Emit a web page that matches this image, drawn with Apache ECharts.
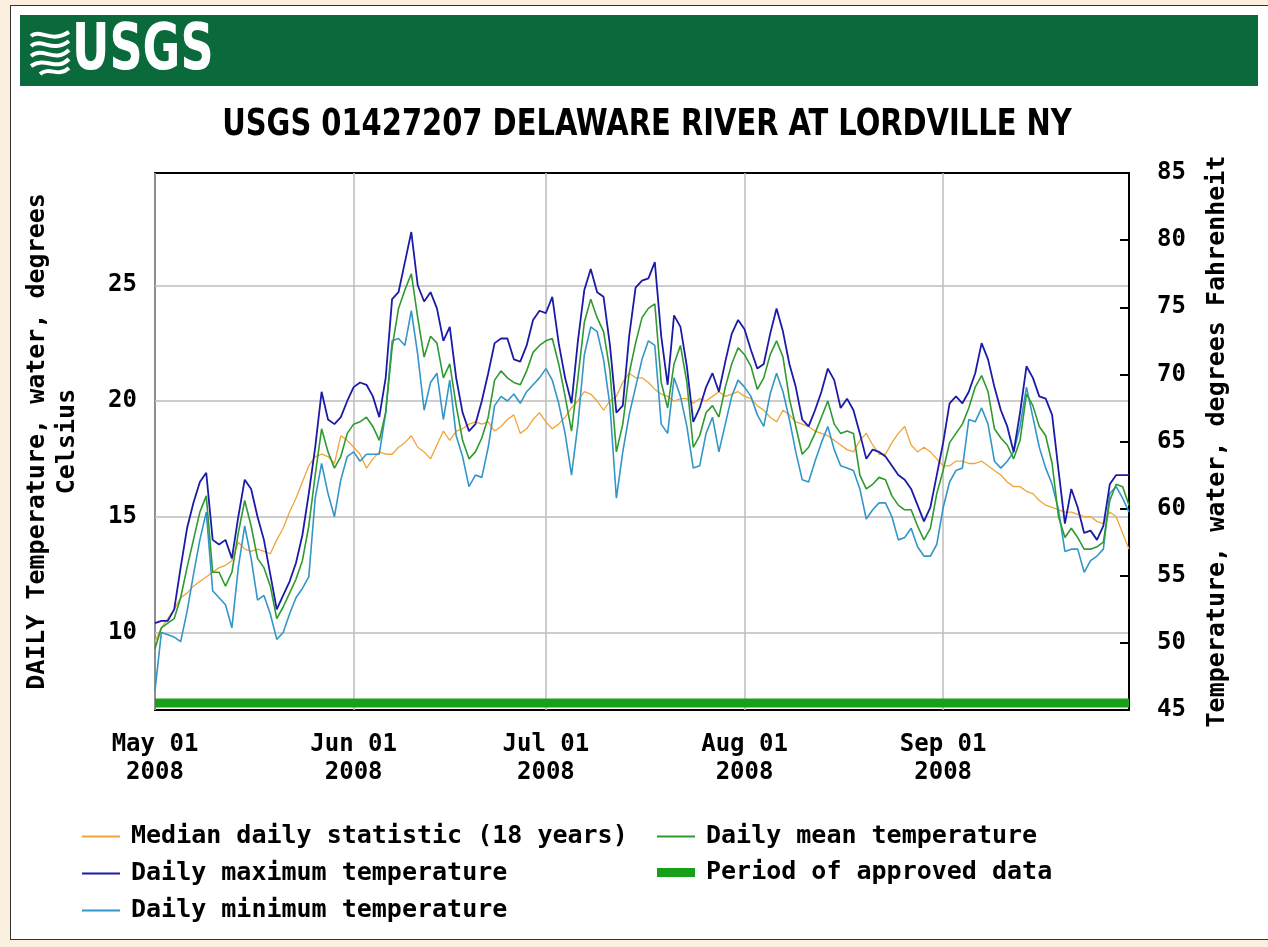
<!DOCTYPE html>
<html>
<head>
<meta charset="utf-8">
<script src="https://cdn.jsdelivr.net/npm/echarts@6/dist/echarts.min.js"></script>
<style>
  html, body { margin: 0; padding: 0; background: #FBF0DF; }
  #panel { position: absolute; left: 10px; top: 5px; width: 1262px; height: 933px; background: #fff; border: 1.5px solid #333; }
  #chart { position: absolute; left: 0; top: 0; width: 1268px; height: 947px; }
</style>
</head>
<body>
<div id="panel"></div>
<div id="chart"></div>
<script>
// ---------------- DATA ----------------
const startDate = '2008-05-01';
const dayCount = 153; // May 01 .. Sep 30, 2008
const monthNames = ['Jan','Feb','Mar','Apr','May','Jun','Jul','Aug','Sep','Oct','Nov','Dec'];

const dailyMax = [
  10.4, 10.5, 10.5, 11.0, 12.8, 14.5, 15.6, 16.5, 16.9, 14.0,
  13.8, 14.0, 13.2, 15.0, 16.6, 16.2, 15.0, 14.0, 12.5, 11.0,
  11.6, 12.2, 13.0, 14.2, 16.0, 18.0, 20.4, 19.2, 19.0, 19.3,
  20.0, 20.6, 20.8, 20.7, 20.2, 19.3, 21.0, 24.4, 24.7, 26.0,
  27.3, 25.0, 24.3, 24.7, 24.0, 22.6, 23.2, 21.0, 19.5, 18.7,
  19.0, 20.0, 21.2, 22.5, 22.7, 22.7, 21.8, 21.7, 22.4, 23.5,
  23.9, 23.8, 24.5, 22.5, 21.0, 19.9, 22.6, 24.8, 25.7, 24.7,
  24.5, 22.4, 19.5, 19.8, 22.8, 24.9, 25.2, 25.3, 26.0, 22.8,
  20.7, 23.7, 23.2, 21.5, 19.1, 19.7, 20.6, 21.2, 20.4, 21.7,
  22.9, 23.5, 23.1, 22.2, 21.4, 21.6, 22.9, 24.0, 23.0, 21.6,
  20.6, 19.2, 18.9, 19.6, 20.4, 21.4, 20.9, 19.7, 20.1, 19.6,
  18.6, 17.5, 17.9, 17.8, 17.6, 17.2, 16.8, 16.6, 16.2, 15.5,
  14.8, 15.4, 16.8, 18.2, 19.9, 20.2, 19.9, 20.4, 21.2, 22.5,
  21.8, 20.6, 19.6, 18.9, 17.8, 19.5, 21.5, 21.0, 20.2, 20.1,
  19.4, 17.0, 14.7, 16.2, 15.4, 14.3, 14.4, 14.0, 14.6, 16.4,
  16.8, 16.8, 16.8
];

const dailyMean = [
  9.3, 10.2, 10.4, 10.6, 11.5, 12.8, 14.0, 15.2, 15.9, 12.6,
  12.6, 12.0, 12.6, 14.3, 15.7, 14.6, 13.2, 12.8, 12.0, 10.6,
  11.1, 11.7, 12.3, 13.1, 14.6, 16.8, 18.8, 17.8, 17.1, 17.6,
  18.6, 19.0, 19.1, 19.3, 18.9, 18.3, 19.5, 22.3, 24.0, 24.8,
  25.5, 23.6, 21.9, 22.8, 22.5, 21.0, 21.6, 19.8, 18.3, 17.5,
  17.8, 18.4, 19.3, 20.9, 21.3, 21.0, 20.8, 20.7, 21.3, 22.1,
  22.4, 22.6, 22.7, 21.6, 20.2, 18.7, 21.0, 23.4, 24.4, 23.6,
  23.0, 21.3, 17.8, 19.0, 21.2, 22.5, 23.6, 24.0, 24.2, 20.8,
  19.7, 21.6, 22.4, 20.8, 18.0, 18.5, 19.5, 19.8, 19.3, 20.6,
  21.6, 22.3, 22.0, 21.5, 20.5, 21.0, 22.0, 22.6, 21.9, 20.1,
  18.9, 17.7, 18.0, 18.6, 19.3, 20.0, 19.0, 18.6, 18.7, 18.6,
  16.8, 16.2, 16.4, 16.7, 16.6, 15.9, 15.5, 15.3, 15.3, 14.6,
  14.0, 14.5, 16.0, 17.0, 18.2, 18.6, 19.0, 19.7, 20.6, 21.1,
  20.4, 18.8, 18.4, 18.1, 17.5, 18.3, 20.3, 19.8, 18.9, 18.5,
  17.3, 15.0, 14.1, 14.5, 14.1, 13.6, 13.6, 13.7, 13.9, 15.7,
  16.4, 16.3, 15.5
];

const dailyMin = [
  7.5, 10.0, 9.9, 9.8, 9.6, 10.9, 12.5, 14.0, 15.2, 11.8,
  11.5, 11.2, 10.2, 12.8, 14.6, 13.2, 11.4, 11.6, 10.8, 9.7,
  10.0, 10.8, 11.5, 11.9, 12.4, 15.8, 17.3, 16.0, 15.0, 16.6,
  17.6, 17.8, 17.4, 17.7, 17.7, 17.7, 19.5, 22.6, 22.7, 22.4,
  23.9, 22.0, 19.6, 20.8, 21.2, 19.2, 20.9, 18.5, 17.6, 16.3,
  16.8, 16.7, 18.0, 19.8, 20.2, 20.0, 20.3, 19.9, 20.4, 20.7,
  21.0, 21.4, 20.9, 19.9, 18.6, 16.8, 19.0, 22.0, 23.2, 23.0,
  21.8, 19.8, 15.8, 17.8, 19.4, 20.6, 21.8, 22.6, 22.4, 19.0,
  18.6, 21.0, 20.2, 18.9, 17.1, 17.2, 18.6, 19.3, 17.8, 19.0,
  20.2, 20.9, 20.6, 20.2, 19.4, 18.9, 20.3, 21.2, 20.4, 19.2,
  17.8, 16.6, 16.5, 17.4, 18.2, 18.9, 17.9, 17.2, 17.1, 17.0,
  16.2, 14.9, 15.3, 15.6, 15.6, 15.0, 14.0, 14.1, 14.5, 13.7,
  13.3, 13.3, 13.8, 15.4, 16.5, 17.0, 17.1, 19.2, 19.1, 19.7,
  19.0, 17.4, 17.1, 17.4, 17.8, 18.9, 20.6, 19.3, 18.0, 17.1,
  16.4, 15.3, 13.5, 13.6, 13.6, 12.6, 13.1, 13.3, 13.6, 16.0,
  16.3, 15.8, 15.2
];

const medianDaily = [
  9.6, 10.2, 10.6, 11.0, 11.5, 11.7, 12.0, 12.2, 12.4, 12.6,
  12.8, 12.9, 13.1, 13.9, 13.6, 13.5, 13.6, 13.5, 13.4, 14.0,
  14.5, 15.2, 15.8, 16.5, 17.2, 17.6, 17.7, 17.6, 17.3, 18.5,
  18.3, 18.0, 17.7, 17.1, 17.5, 17.8, 17.7, 17.7, 18.0, 18.2,
  18.5, 18.0, 17.8, 17.5, 18.1, 18.7, 18.3, 18.7, 18.8, 19.0,
  19.1, 19.0, 19.1, 18.7, 18.9, 19.2, 19.4, 18.6, 18.8, 19.2,
  19.5, 19.1, 18.8, 19.0, 19.3, 19.7, 20.0, 20.4, 20.3, 20.0,
  19.6, 20.0, 20.2, 20.8, 21.2, 21.0, 21.0, 20.8, 20.5, 20.3,
  20.2, 20.0, 20.1, 20.1, 19.9, 20.1, 20.0, 20.2, 20.4, 20.2,
  20.3, 20.4, 20.2, 20.1, 19.8, 19.6, 19.3, 19.1, 19.6, 19.4,
  19.1, 19.0, 18.9, 18.7, 18.6, 18.5, 18.3, 18.1, 17.9, 17.8,
  18.3, 18.6, 18.1, 17.7, 17.7, 18.2, 18.6, 18.9, 18.1, 17.8,
  18.0, 17.8, 17.5, 17.2, 17.2, 17.4, 17.4, 17.3, 17.3, 17.4,
  17.2, 17.0, 16.8, 16.5, 16.3, 16.3, 16.1, 16.0, 15.7, 15.5,
  15.4, 15.3, 15.2, 15.2, 15.1, 15.0, 15.0, 14.8, 14.7, 15.2,
  15.0, 14.3, 13.6
];

const celsiusTicks = [10, 15, 20, 25];
const celsiusRange = [6.65, 29.85];
const fahrenheitRange = [45, 85];
const approvedLevel = 6.95; // band of approved data drawn along the bottom

// ---------------- BUILD ----------------
const dates = [];
{
  const d0 = new Date(startDate + 'T00:00:00Z');
  for (let i = 0; i < dayCount; i++) {
    const d = new Date(d0.getTime() + i * 86400000);
    dates.push(d.toISOString().slice(0, 10));
  }
}
const approvedData = dates.map(() => approvedLevel);
const isMonthStart = (idx, val) => String(val).slice(8, 10) === '01';

const MONO = '"DejaVu Sans Mono", "Liberation Mono", monospace';
const NARROW = '"DejaVu Sans Condensed", "Liberation Sans", sans-serif';
const lblFont = { fontFamily: MONO, fontWeight: 'bold', fontSize: 24, color: '#000' };
const nameFont = { fontFamily: MONO, fontWeight: 'bold', fontSize: 25, color: '#000' };
const legendFont = { fontFamily: MONO, fontWeight: 'bold', fontSize: 25, color: '#000', lineHeight: 24, padding: [0, 0, 0, 6] };

const C_MEDIAN = '#EFA53A', C_MEAN = '#2F9A2F', C_MAX = '#1B1BA8', C_MIN = '#3396C8', C_APPR = '#18A018';

// wave strokes of the logo mark
const waves = [
  [31, 36, 40, 28, 50, 44, 69, 32],
  [31, 46, 42, 37, 52, 54, 69, 41],
  [31, 56, 44, 46, 54, 64, 69, 50],
  [31, 66, 46, 56, 56, 72, 69, 59],
  [40, 74, 50, 66, 58, 78, 69, 68]
].map(w => ({
  type: 'bezierCurve',
  shape: { x1: w[0], y1: w[1], cpx1: w[2], cpy1: w[3], cpx2: w[4], cpy2: w[5], x2: w[6], y2: w[7] },
  style: { stroke: '#fff', lineWidth: 4, fill: null }, z: 1
}));

const legendBase = { orient: 'vertical', itemWidth: 38, itemGap: 12, padding: 0, selectedMode: false, textStyle: legendFont };

const chart = echarts.init(document.getElementById('chart'), null, { renderer: 'canvas' });
chart.setOption({
  animation: false,
  backgroundColor: 'transparent',
  graphic: [
    { type: 'rect', shape: { x: 20, y: 15, width: 1238, height: 71 }, style: { fill: '#0A6A3B' }, z: 0 }
  ].concat(waves, [
    { type: 'text', x: 72, y: 52, scaleX: 0.8, style: { text: 'USGS', fill: '#fff', font: 'bold 64px ' + NARROW, verticalAlign: 'middle' }, z: 1 },
    { type: 'text', x: 647, y: 125, scaleX: 0.87, style: { text: 'USGS 01427207 DELAWARE RIVER AT LORDVILLE NY', fill: '#000',
        font: 'bold 37px ' + NARROW, align: 'center', verticalAlign: 'middle' }, z: 1 }
  ]),
  grid: { left: 155, top: 173, width: 974, height: 537, show: true, borderColor: '#000', borderWidth: 2, backgroundColor: '#fff', containLabel: false },
  legend: [
    Object.assign({}, legendBase, { left: 82, top: 824, itemHeight: 2, icon: 'rect',
      data: ['Median daily statistic (18 years)', 'Daily maximum temperature', 'Daily minimum temperature'] }),
    Object.assign({}, legendBase, { left: 657, top: 824, itemHeight: 2, icon: 'rect',
      data: ['Daily mean temperature'] }),
    Object.assign({}, legendBase, { left: 657, top: 860, itemHeight: 9, icon: 'rect',
      data: ['Period of approved data'] })
  ],
  xAxis: {
    type: 'category', data: dates, boundaryGap: false,
    axisLine: { show: false }, axisTick: { show: false },
    axisLabel: Object.assign({
      interval: isMonthStart, margin: 21, lineHeight: 28,
      formatter: v => monthNames[+v.slice(5, 7) - 1] + ' ' + v.slice(8, 10) + '\n' + v.slice(0, 4)
    }, lblFont),
    splitLine: { show: true, interval: isMonthStart, lineStyle: { color: '#BDBDBD', width: 1.5 } }
  },
  yAxis: [
    {
      type: 'value', position: 'left', min: celsiusRange[0], max: celsiusRange[1],
      axisLine: { show: false }, axisTick: { show: false, customValues: celsiusTicks },
      axisLabel: Object.assign({ customValues: celsiusTicks, margin: 18 }, lblFont),
      splitLine: { show: true, lineStyle: { color: '#BDBDBD', width: 1.5 } },
      name: 'DAILY Temperature, water, degrees\nCelsius', nameLocation: 'middle', nameGap: 73,
      nameTextStyle: Object.assign({ lineHeight: 30 }, nameFont)
    },
    {
      type: 'value', position: 'right', min: fahrenheitRange[0], max: fahrenheitRange[1], interval: 5,
      axisLine: { show: true, lineStyle: { color: '#000', width: 2 } },
      axisTick: { show: true, inside: true, length: 9, lineStyle: { color: '#000', width: 2 } },
      axisLabel: Object.assign({ margin: 28 }, lblFont),
      splitLine: { show: false },
      name: 'Temperature, water, degrees Fahrenheit', nameLocation: 'middle', nameGap: 76,
      nameTextStyle: Object.assign({}, nameFont)
    }
  ],
  series: [
    { name: 'Period of approved data', type: 'line', data: approvedData, symbol: 'none', color: C_APPR,
      lineStyle: { color: C_APPR, width: 9 }, silent: true, z: 2 },
    { name: 'Median daily statistic (18 years)', type: 'line', data: medianDaily, symbol: 'none', color: C_MEDIAN,
      lineStyle: { color: C_MEDIAN, width: 1.3 }, silent: true, z: 3 },
    { name: 'Daily minimum temperature', type: 'line', data: dailyMin, symbol: 'none', color: C_MIN,
      lineStyle: { color: C_MIN, width: 1.6 }, silent: true, z: 4 },
    { name: 'Daily mean temperature', type: 'line', data: dailyMean, symbol: 'none', color: C_MEAN,
      lineStyle: { color: C_MEAN, width: 1.6 }, silent: true, z: 5 },
    { name: 'Daily maximum temperature', type: 'line', data: dailyMax, symbol: 'none', color: C_MAX,
      lineStyle: { color: C_MAX, width: 1.8 }, silent: true, z: 6 }
  ]
});
</script>
</body>
</html>
